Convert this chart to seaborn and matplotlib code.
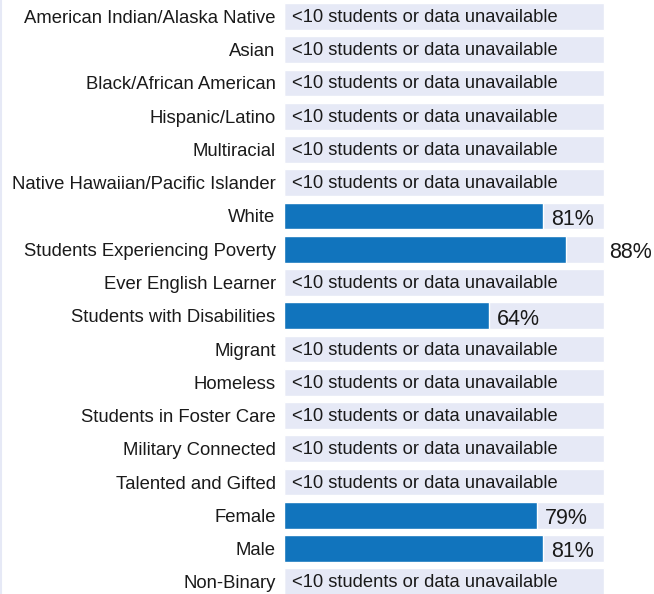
import matplotlib
matplotlib.use("Agg")
import matplotlib.pyplot as plt
import matplotlib.lines as mlines
import seaborn as sns
import pandas as pd

sns.set_style("white")
plt.rcParams["font.family"] = ["Liberation Sans", "DejaVu Sans"]

# ── Data ──────────────────────────────────────────────────────────────────────
groups = [
    "American Indian/Alaska Native", "Asian", "Black/African American",
    "Hispanic/Latino", "Multiracial", "Native Hawaiian/Pacific Islander",
    "White", "Students Experiencing Poverty", "Ever English Learner",
    "Students with Disabilities", "Migrant", "Homeless",
    "Students in Foster Care", "Military Connected", "Talented and Gifted",
    "Female", "Male", "Non-Binary",
]
rates = [None, None, None, None, None, None, 81, 88, None, 64,
         None, None, None, None, None, 79, 81, None]
NA_TEXT = "<10 students or data unavailable"

BLUE = "#1174bd"
LAV = "#e6e9f6"
TXT = "#1a1a1a"

df = pd.DataFrame({"group": groups, "rate": rates})
df["full"] = 100
df["rate_plot"] = df["rate"].fillna(0)

fig = plt.figure(figsize=(6.54, 5.94), dpi=100)
ax = fig.add_axes([284 / 654, 0, 370 / 654, 1])

sns.barplot(data=df, y="group", x="full", orient="h", color=LAV,
            width=0.81, saturation=1, ax=ax)
sns.barplot(data=df, y="group", x="rate_plot", orient="h", color=BLUE,
            width=0.81, saturation=1, ax=ax)

pad = 2.5
for i, v in enumerate(rates):
    if v is None:
        ax.text(pad, i + 0.03, NA_TEXT, va="center", ha="left", fontsize=13.2, color=TXT)
    else:
        # labels that would spill past the track go just outside it
        xpos = v + pad if v < 85 else 100 + 1.6
        ax.text(xpos, i + 0.1, f"{v:.0f}%", va="center", ha="left", fontsize=15.5, color=TXT)

ax.set_xlim(0, 100 * 370 / 320)
ax.set_ylim(17.368, -0.496)
ax.set_xlabel("")
ax.set_ylabel("")
ax.set_xticks([])
ax.tick_params(axis="y", length=0, pad=6, labelsize=13.3, labelcolor=TXT)
for s in ax.spines.values():
    s.set_visible(False)

fig.add_artist(mlines.Line2D([0.5 / 654, 0.5 / 654], [0, 1], color=LAV, lw=1.5,
                             transform=fig.transFigure))

fig.savefig("out.png", dpi=100)
